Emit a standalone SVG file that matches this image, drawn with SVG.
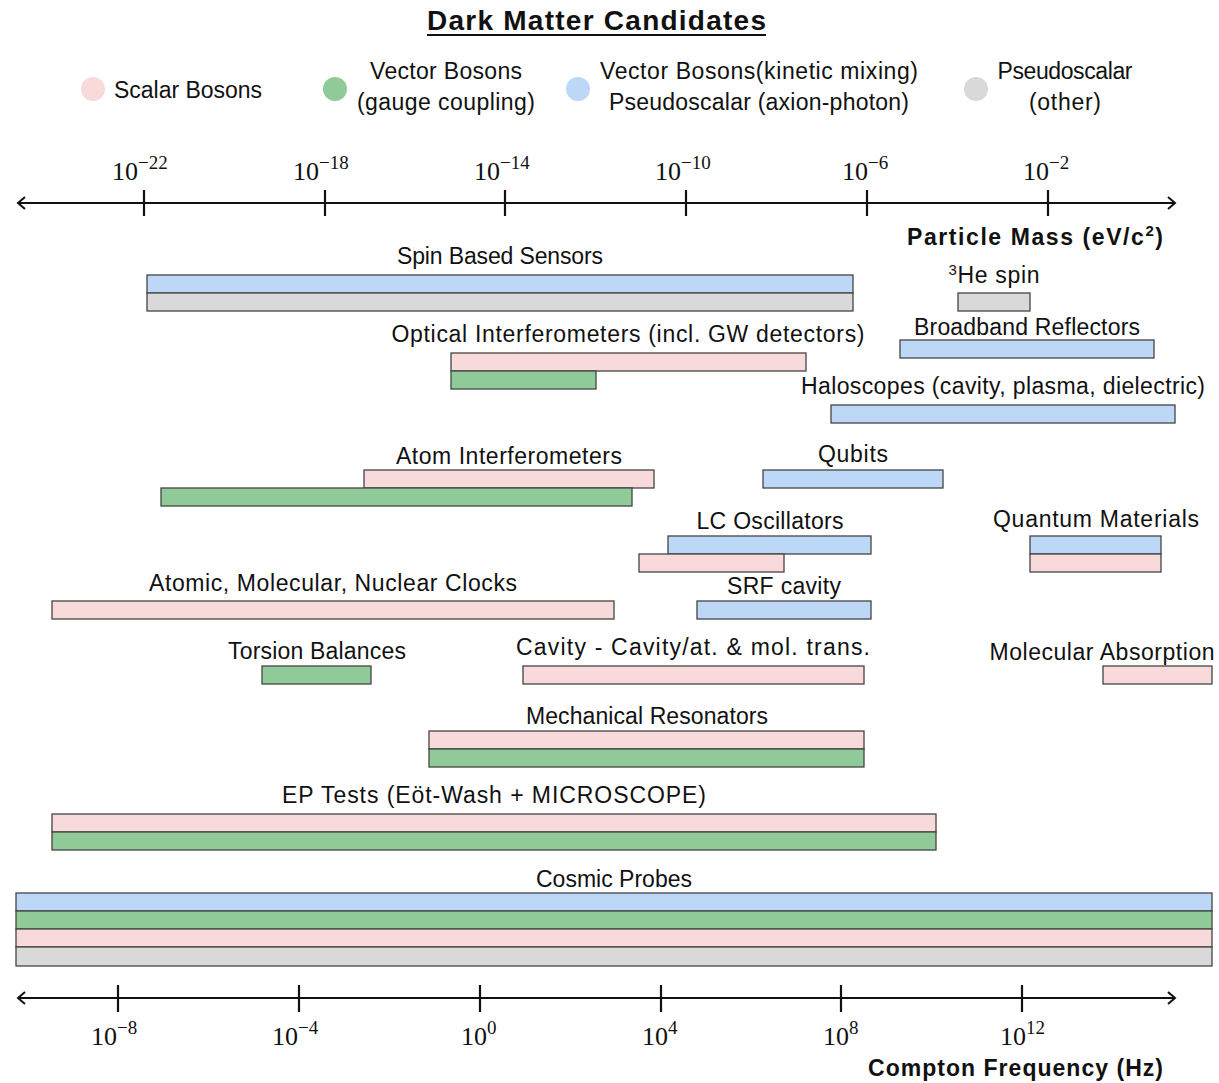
<svg xmlns="http://www.w3.org/2000/svg" width="1219" height="1083" viewBox="0 0 1219 1083">
<style>
text{font-family:"Liberation Sans","DejaVu Sans",sans-serif;fill:#111;}
.lab{font-size:23px;text-anchor:middle;}
.leg{font-size:23px;}
.legc{font-size:23px;text-anchor:middle;}
.tick{font-family:"Liberation Serif","DejaVu Serif",serif;font-size:26px;}
.sup{font-size:19px;}
.ax{stroke:#111;stroke-width:2.2;fill:none;}
.bar{stroke:#444;stroke-width:1.3;}
.p{fill:#f8dada;}
.g{fill:#8fca98;}
.b{fill:#bdd8f6;}
.k{fill:#d9d9d9;}
.bold{font-weight:bold;font-size:23px;}
</style>
<defs>
<marker id="arr" markerWidth="12" markerHeight="14" refX="9" refY="7" orient="auto-start-reverse" markerUnits="userSpaceOnUse">
<path d="M2,1 L9,7 L2,13" fill="none" stroke="#111" stroke-width="2"/>
</marker>
</defs>
<rect width="1219" height="1083" fill="#ffffff"/>

<g id="title">
<text x="427" y="30" textLength="339" style="font-size:28px;font-weight:bold">Dark Matter Candidates</text>
<line x1="427" y1="35" x2="766" y2="35" stroke="#111" stroke-width="2"/>
</g>

<g id="legend">
<circle cx="93" cy="89" r="12" class="p"/>
<text class="leg" x="114" y="98" textLength="148">Scalar Bosons</text>
<circle cx="335" cy="89" r="12" class="g"/>
<text class="legc" x="446" y="79" textLength="152">Vector Bosons</text>
<text class="legc" x="446" y="110" textLength="178">(gauge coupling)</text>
<circle cx="578" cy="89" r="12" class="b"/>
<text class="legc" x="759" y="79" textLength="318">Vector Bosons(kinetic mixing)</text>
<text class="legc" x="759" y="110" textLength="300">Pseudoscalar (axion-photon)</text>
<circle cx="976" cy="89" r="12" class="k"/>
<text class="legc" x="1065" y="79" textLength="135">Pseudoscalar</text>
<text class="legc" x="1065" y="110" textLength="72">(other)</text>
</g>

<g id="mass-axis">
<line class="ax" x1="18" y1="203" x2="1175" y2="203" marker-start="url(#arr)" marker-end="url(#arr)"/>
<path class="ax" d="M144,190V216M325,190V216M505,190V216M686,190V216M867,190V216M1048,190V216"/>
<text class="tick" x="112" y="180">10<tspan class="sup" dy="-11">−22</tspan></text>
<text class="tick" x="293" y="180">10<tspan class="sup" dy="-11">−18</tspan></text>
<text class="tick" x="474" y="180">10<tspan class="sup" dy="-11">−14</tspan></text>
<text class="tick" x="655" y="180">10<tspan class="sup" dy="-11">−10</tspan></text>
<text class="tick" x="842" y="180">10<tspan class="sup" dy="-11">−6</tspan></text>
<text class="tick" x="1023" y="180">10<tspan class="sup" dy="-11">−2</tspan></text>
<text class="bold" x="907" y="245" textLength="256">Particle Mass (eV/c<tspan dy="-9" font-size="15">2</tspan><tspan dy="9">)</tspan></text>
</g>

<g id="spin-based-sensors">
<text class="lab" x="500" y="264" textLength="206">Spin Based Sensors</text>
<rect class="bar b" x="147" y="275" width="706" height="18"/>
<rect class="bar k" x="147" y="293" width="706" height="18"/>
</g>
<g id="he3-spin">
<text class="lab" x="994" y="283" textLength="91"><tspan dy="-8" font-size="15">3</tspan><tspan dy="8">He spin</tspan></text>
<rect class="bar k" x="958" y="293" width="72" height="18"/>
</g>
<g id="optical-interferometers">
<text class="lab" x="628" y="342" textLength="473">Optical Interferometers (incl. GW detectors)</text>
<rect class="bar p" x="451" y="353" width="355" height="18"/>
<rect class="bar g" x="451" y="371" width="145" height="18"/>
</g>
<g id="broadband-reflectors">
<text class="lab" x="1027" y="335" textLength="226">Broadband Reflectors</text>
<rect class="bar b" x="900" y="340" width="254" height="18"/>
</g>
<g id="haloscopes">
<text class="lab" x="1003" y="394" textLength="404">Haloscopes (cavity, plasma, dielectric)</text>
<rect class="bar b" x="831" y="405" width="344" height="18"/>
</g>
<g id="atom-interferometers">
<text class="lab" x="509" y="464" textLength="226">Atom Interferometers</text>
<rect class="bar p" x="364" y="470" width="290" height="18"/>
<rect class="bar g" x="161" y="488" width="471" height="18"/>
</g>
<g id="qubits">
<text class="lab" x="853" y="462" textLength="70">Qubits</text>
<rect class="bar b" x="763" y="470" width="180" height="18"/>
</g>
<g id="lc-oscillators">
<text class="lab" x="770" y="529" textLength="147">LC Oscillators</text>
<rect class="bar b" x="668" y="536" width="203" height="18"/>
<rect class="bar p" x="639" y="554" width="145" height="18"/>
</g>
<g id="quantum-materials">
<text class="lab" x="1096" y="527" textLength="206">Quantum Materials</text>
<rect class="bar b" x="1030" y="536" width="131" height="18"/>
<rect class="bar p" x="1030" y="554" width="131" height="18"/>
</g>
<g id="clocks">
<text class="lab" x="333" y="591" textLength="368">Atomic, Molecular, Nuclear Clocks</text>
<rect class="bar p" x="52" y="601" width="562" height="18"/>
</g>
<g id="srf-cavity">
<text class="lab" x="784" y="594" textLength="114">SRF cavity</text>
<rect class="bar b" x="697" y="601" width="174" height="18"/>
</g>
<g id="torsion-balances">
<text class="lab" x="317" y="659" textLength="178">Torsion Balances</text>
<rect class="bar g" x="262" y="666" width="109" height="18"/>
</g>
<g id="cavity-cavity">
<text class="lab" x="693" y="655" textLength="354">Cavity - Cavity/at. &amp; mol. trans.</text>
<rect class="bar p" x="523" y="666" width="341" height="18"/>
</g>
<g id="molecular-absorption">
<text class="lab" x="1102" y="660" textLength="225">Molecular Absorption</text>
<rect class="bar p" x="1103" y="666" width="109" height="18"/>
</g>
<g id="mechanical-resonators">
<text class="lab" x="647" y="724" textLength="242">Mechanical Resonators</text>
<rect class="bar p" x="429" y="731" width="435" height="18"/>
<rect class="bar g" x="429" y="749" width="435" height="18"/>
</g>
<g id="ep-tests">
<text class="lab" x="494" y="803" textLength="424">EP Tests (Eöt-Wash + MICROSCOPE)</text>
<rect class="bar p" x="52" y="814" width="884" height="18"/>
<rect class="bar g" x="52" y="832" width="884" height="18"/>
</g>
<g id="cosmic-probes">
<text class="lab" x="614" y="887" textLength="156">Cosmic Probes</text>
<rect class="bar b" x="16" y="893" width="1196" height="18"/>
<rect class="bar g" x="16" y="911" width="1196" height="18"/>
<rect class="bar p" x="16" y="929" width="1196" height="18"/>
<rect class="bar k" x="16" y="947" width="1196" height="19"/>
</g>

<g id="frequency-axis">
<line class="ax" x1="18" y1="998" x2="1175" y2="998" marker-start="url(#arr)" marker-end="url(#arr)"/>
<path class="ax" d="M118,985V1012M299,985V1012M480,985V1012M661,985V1012M841,985V1012M1022,985V1012"/>
<text class="tick" x="91" y="1045">10<tspan class="sup" dy="-11">−8</tspan></text>
<text class="tick" x="272" y="1045">10<tspan class="sup" dy="-11">−4</tspan></text>
<text class="tick" x="461" y="1045">10<tspan class="sup" dy="-11">0</tspan></text>
<text class="tick" x="642" y="1045">10<tspan class="sup" dy="-11">4</tspan></text>
<text class="tick" x="823" y="1045">10<tspan class="sup" dy="-11">8</tspan></text>
<text class="tick" x="1000" y="1045">10<tspan class="sup" dy="-11">12</tspan></text>
<text class="bold" x="868" y="1076" textLength="295">Compton Frequency (Hz)</text>
</g>
</svg>
